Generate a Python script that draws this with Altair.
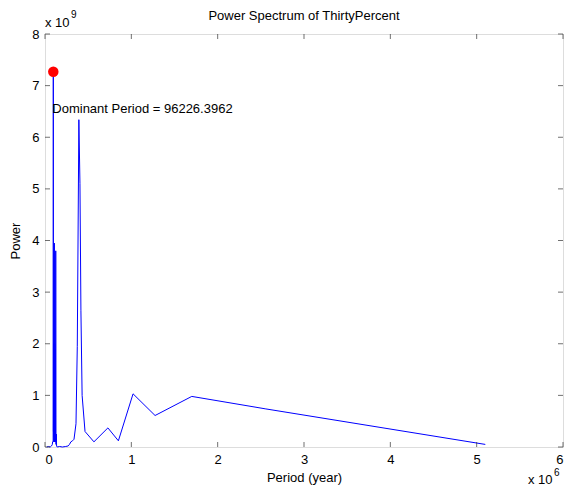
import altair as alt
import pandas as pd

# Period (years) and power values
periods = [20000, 40000, 60000, 75000, 85000, 88000, 94444, 96226, 98077, 100000,
           102000, 104082, 106250, 108511, 110870, 113333, 115909, 118605, 121429,
           124390, 127500, 130769, 134211, 141667, 170000, 200000, 240000, 268421,
           283333, 300000, 318750, 336000, 359000, 374000, 392308, 405000, 416000,
           430000, 463636, 566667, 728571, 850000, 1020000, 1275000, 1700000,
           2550000, 5100000]
powers = [0.0, 0.01e9, 0.0, 0.02e9, 0.05e9, 0.1e9, 0.1e9, 7.27e9, 0.3e9, 1.6e9,
          0.1e9, 2.0e9, 0.2e9, 3.95e9, 0.1e9, 2.0e9, 0.3e9, 1.9e9, 0.1e9,
          3.8e9, 0.05e9, 0.25e9, 0.02e9, 0.0, 0.01e9, 0.0, 0.01e9, 0.02e9,
          0.05e9, 0.1e9, 0.12e9, 0.15e9, 0.45e9, 1.95e9, 6.34e9, 5.1e9, 2.65e9,
          1.0e9, 0.3e9, 0.1e9, 0.37e9, 0.12e9, 1.03e9, 0.61e9, 0.98e9,
          0.74e9, 0.05e9]

dominant_period = 96226.3962
dominant_power = 7.27e9
annot_power = 0.9 * dominant_power

x_ticks = [0, 1e6, 2e6, 3e6, 4e6, 5e6, 6e6]
y_ticks = [0, 1e9, 2e9, 3e9, 4e9, 5e9, 6e9, 7e9, 8e9]

W, H = 518, 413
FONT = "Liberation Sans"

df = pd.DataFrame({"period": periods, "power": powers})
peak = pd.DataFrame({"period": [dominant_period], "power": [dominant_power]})
annot = pd.DataFrame({"period": [dominant_period], "power": [annot_power],
                      "label": ["Dominant Period = 96226.3962"]})
xt = pd.DataFrame({"v": x_ticks})
yt = pd.DataFrame({"v": y_ticks})

xscale = alt.Scale(domain=[0, 6e6], nice=False, zero=False)
yscale = alt.Scale(domain=[0, 8e9], nice=False, zero=False)

xaxis = alt.Axis(values=x_ticks, labelExpr="datum.value / 1e6", ticks=False, domain=False,
                 grid=False, labelFont=FONT, labelFontSize=13, labelColor="black",
                 labelPadding=6, title="Period (year)", titleFont=FONT, titleFontSize=13,
                 titleFontWeight="normal", titleColor="black", titlePadding=5)
yaxis = alt.Axis(values=y_ticks, labelExpr="datum.value / 1e9", ticks=False, domain=False,
                 grid=False, labelFont=FONT, labelFontSize=13, labelColor="black",
                 labelPadding=6, title="Power", titleFont=FONT, titleFontSize=13,
                 titleFontWeight="normal", titleColor="black", titlePadding=9)

line = alt.Chart(df).mark_line(color="#0000ff", strokeWidth=1).encode(
    x=alt.X("period:Q", scale=xscale, axis=xaxis),
    y=alt.Y("power:Q", scale=yscale, axis=yaxis),
)

dot = alt.Chart(peak).mark_point(filled=True, color="#ff0000", size=110, opacity=1).encode(
    x=alt.X("period:Q", scale=xscale), y=alt.Y("power:Q", scale=yscale))

text = alt.Chart(annot).mark_text(align="left", baseline="middle", font=FONT,
                                  fontSize=13, color="black", dx=-1).encode(
    x=alt.X("period:Q", scale=xscale), y=alt.Y("power:Q", scale=yscale), text="label:N")

tick_len = 5
xt_bottom = alt.Chart(xt).mark_tick(orient="vertical", size=tick_len, thickness=1, color="#333333").encode(
    x=alt.X("v:Q", scale=xscale), y=alt.value(H - tick_len / 2))
xt_top = alt.Chart(xt).mark_tick(orient="vertical", size=tick_len, thickness=1, color="#333333").encode(
    x=alt.X("v:Q", scale=xscale), y=alt.value(tick_len / 2))
yt_left = alt.Chart(yt).mark_tick(orient="horizontal", size=tick_len, thickness=1, color="#333333").encode(
    y=alt.Y("v:Q", scale=yscale), x=alt.value(tick_len / 2))
yt_right = alt.Chart(yt).mark_tick(orient="horizontal", size=tick_len, thickness=1, color="#333333").encode(
    y=alt.Y("v:Q", scale=yscale), x=alt.value(W - tick_len / 2))

title = alt.Chart(pd.DataFrame({"t": ["Power Spectrum of ThirtyPercent"]})).mark_text(
    align="center", baseline="alphabetic", font=FONT, fontSize=13, color="black").encode(
    text="t:N", x=alt.value(W / 2), y=alt.value(-14))
exp_y_base = alt.Chart(pd.DataFrame({"t": ["x 10"]})).mark_text(
    align="left", baseline="alphabetic", font=FONT, fontSize=13, color="black").encode(
    text="t:N", x=alt.value(0), y=alt.value(-7))
exp_y_sup = alt.Chart(pd.DataFrame({"t": ["9"]})).mark_text(
    align="left", baseline="alphabetic", font=FONT, fontSize=10, color="black").encode(
    text="t:N", x=alt.value(26), y=alt.value(-16))
exp_x_base = alt.Chart(pd.DataFrame({"t": ["x 10"]})).mark_text(
    align="left", baseline="alphabetic", font=FONT, fontSize=13, color="black").encode(
    text="t:N", x=alt.value(W - 35), y=alt.value(H + 37))
exp_x_sup = alt.Chart(pd.DataFrame({"t": ["6"]})).mark_text(
    align="left", baseline="alphabetic", font=FONT, fontSize=10, color="black").encode(
    text="t:N", x=alt.value(W - 9), y=alt.value(H + 29))

chart = alt.layer(line, dot, text, xt_bottom, xt_top, yt_left, yt_right, title,
                  exp_y_base, exp_y_sup, exp_x_base, exp_x_sup).properties(
    width=W, height=H,
    autosize=alt.AutoSizeParams(type="none"),
    padding={"left": 37, "top": 26, "right": 2, "bottom": 39},
).configure_view(stroke="#333333", strokeWidth=1).configure(background="white")

chart.save("out.html", embed_options={"renderer": "svg", "actions": False})
